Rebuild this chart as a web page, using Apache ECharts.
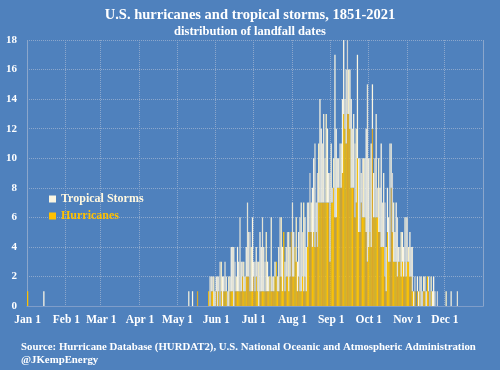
<!DOCTYPE html>
<html>
<head>
<meta charset="utf-8">
<script src="https://cdn.jsdelivr.net/npm/echarts@6/dist/echarts.min.js"></script>
<style>
html,body{margin:0;padding:0;background:#4f81bd;}
#chart{width:500px;height:370px;}
</style>
</head>
<body>
<div id="chart"></div>
<script>
const monthNames = ['Jan','Feb','Mar','Apr','May','Jun','Jul','Aug','Sep','Oct','Nov','Dec'];
const monthLengths = [31,28,31,30,31,30,31,31,30,31,30,31];
const tickLabels = ['Jan 1','Feb 1','Mar 1','Apr 1','May 1','Jun 1','Jul 1','Aug 1','Sep 1','Oct 1','Nov 1','Dec 1'];
const yTicks = [0,2,4,6,8,10,12,14,16,18];

// landfall counts per calendar day (Jan 1 .. Dec 31)
const hurricanes = [
 // Jan
 1,0,0,0,0,0,0,0,0,0, 0,0,0,0,0,0,0,0,0,0, 0,0,0,0,0,0,0,0,0,0, 0,
 // Feb
 0,0,0,0,0,0,0,0,0,0, 0,0,0,0,0,0,0,0,0,0, 0,0,0,0,0,0,0,0,
 // Mar
 0,0,0,0,0,0,0,0,0,0, 0,0,0,0,0,0,0,0,0,0, 0,0,0,0,0,0,0,0,0,0, 0,
 // Apr
 0,0,0,0,0,0,0,0,0,0, 0,0,0,0,0,0,0,0,0,0, 0,0,0,0,0,0,0,0,0,0,
 // May
 0,0,0,0,0,0,0,0,0,0, 0,0,0,0,0,0,1,0,0,0, 0,0,0,0,0,1,0,1,1,0, 0,
 // Jun
 1,0,1,0,1,0,1,1,1,0, 0,1,1,1,0,1,1,1,1,1, 1,2,1,1,2,2,2,1,1,1,
 // Jul
 2,1,2,1,0,1,1,1,1,1, 1,1,1,2,1,1,1,2,3,1, 1,2,2,1,5,1,2,2,1,2, 5,
 // Aug
 2,2,4,3,1,2,1,1,2,1, 2,1,4,5,5,5,4,5,4,5, 4,7,7,7,7,7,7,7,7,7, 3,
 // Sep
 7,7,8,6,6,8,8,8,8,9, 13,12,11,13,13,12,8,8,8,6, 7,10,5,5,7,6,6,6,5,3,
 // Oct
 4,5,4,12,6,6,6,6,5,5, 4,4,4,2,1,5,3,3,8,5, 3,3,3,2,3,3,2,3,2,3, 2,
 // Nov
 3,3,2,2,1,0,1,0,1,0, 1,0,0,1,1,0,2,1,0,1, 0,0,0,0,0,0,0,0,0,0,
 // Dec
 0,0,0,0,0,0,0,0,0,0, 0,0,0,0,0,0,0,0,0,0, 0,0,0,0,0,0,0,0,0,0, 0
];

const tropicalStorms = [
 // Jan
 0,0,0,0,0,0,0,0,0,0, 0,0,0,1,0,0,0,0,0,0, 0,0,0,0,0,0,0,0,0,0, 0,
 // Feb
 0,0,0,0,0,0,0,0,0,0, 0,0,0,0,0,0,0,0,0,0, 0,0,0,0,0,0,0,0,
 // Mar
 0,0,0,0,0,0,0,0,0,0, 0,0,0,0,0,0,0,0,0,0, 0,0,0,0,0,0,0,0,0,0, 0,
 // Apr
 0,0,0,0,0,0,0,0,0,0, 0,0,0,0,0,0,0,0,0,0, 0,0,0,0,0,0,0,0,0,0,
 // May
 0,0,0,0,0,0,0,0,0,1, 0,0,1,0,0,0,0,0,0,0, 0,0,0,0,0,0,2,1,1,2, 1,
 // Jun
 1,2,1,3,2,2,1,2,1,1, 2,1,3,3,4,2,1,3,2,5, 2,1,2,1,2,5,3,4,3,5,
 // Jul
 1,2,2,2,3,4,3,5,3,2, 4,2,1,0,5,1,1,1,0,1, 3,4,4,3,0,2,2,3,4,2, 0,
 // Aug
 5,3,0,3,2,3,5,6,3,6, 4,3,3,2,4,2,4,5,7,2, 5,4,7,5,4,6,3,6,5,2, 6,
 // Sep
 4,1,2,11,6,2,2,3,3,5, 5,2,5,5,3,4,6,4,5,5, 5,7,5,5,2,4,4,4,7,12,
 // Oct
 6,5,7,3,3,4,7,2,5,3, 7,3,5,5,3,3,3,8,3,4, 4,2,4,4,1,1,3,2,2,3, 4,
 // Nov
 3,1,3,2,3,1,1,0,1,1, 1,2,1,1,1,1,0,1,1,1, 1,2,1,0,1,0,0,0,0,0,
 // Dec
 0,1,0,0,0,1,0,0,0,0, 1,0,0,0,0,0,0,0,0,0, 0,0,0,0,0,0,0,0,0,0, 0
];

const categories = [];
monthNames.forEach((m, i) => {
  for (let d = 1; d <= monthLengths[i]; d++) categories.push(m + ' ' + d);
});

const goldShades = ['#ffc000', '#e3b023', '#f7c20c', '#d8a72a', '#fbbf00'];
const paleShades = ['#fbf6e2', '#fff3c4', '#cfd2d2', '#f6f1dc', '#e2e2d6', '#fff8e6'];
const serif = '"Liberation Serif", "DejaVu Serif", serif';
const gridColor = '#8ca7cc';
const isTick = (i, v) => tickLabels.indexOf(v) >= 0;

const chart = echarts.init(document.getElementById('chart'), null, {renderer: 'canvas'});
chart.setOption({
  animation: false,
  backgroundColor: '#4f81bd',
  title: [
    {text: 'U.S. hurricanes and tropical storms, 1851-2021', left: 'center', top: 3,
     textStyle: {color: '#ffffff', fontFamily: serif, fontWeight: 'bold', fontSize: 14.5}},
    {text: 'distribution of landfall dates', left: 'center', top: 20,
     textStyle: {color: '#ffffff', fontFamily: serif, fontWeight: 'bold', fontSize: 12.5}}
  ],
  legend: {
    orient: 'vertical', left: 44, top: 188, itemGap: 5,
    itemWidth: 7, itemHeight: 7, icon: 'rect',
    textStyle: {fontFamily: serif, fontWeight: 'bold', fontSize: 12},
    data: [
      {name: 'Tropical Storms', itemStyle: {color: '#fbf6e2'}, textStyle: {color: '#fff8e0'}},
      {name: 'Hurricanes', itemStyle: {color: '#ffc000'}, textStyle: {color: '#ffc000'}}
    ]
  },
  grid: {left: 27, right: 17, top: 40, bottom: 64},
  xAxis: {
    type: 'category', data: categories, boundaryGap: true,
    axisLine: {show: true, lineStyle: {color: '#7f9dc9', width: 1}},
    axisTick: {show: false},
    axisLabel: {interval: isTick, color: '#ffffff', fontFamily: serif, fontWeight: 'bold', fontSize: 11.5, margin: 8},
    splitLine: {show: true, interval: isTick, lineStyle: {color: gridColor, type: 'dotted', width: 1}}
  },
  yAxis: [
    {type: 'value', min: yTicks[0], max: yTicks[yTicks.length - 1], interval: 2,
     axisLine: {show: true, lineStyle: {color: gridColor, type: 'dotted'}},
     axisTick: {show: false},
     axisLabel: {color: '#ffffff', fontFamily: serif, fontWeight: 'bold', fontSize: 11, margin: 10},
     splitLine: {lineStyle: {color: gridColor, type: 'dotted', width: 1}}},
    {type: 'value', min: 0, max: 18, interval: 2, position: 'right',
     axisLine: {show: true, lineStyle: {color: gridColor, type: 'dotted'}},
     axisTick: {show: false}, axisLabel: {show: false}, splitLine: {show: false}}
  ],
  series: [
    {name: 'Hurricanes', type: 'bar', stack: 'all', data: hurricanes,
     barCategoryGap: '0%', barWidth: '100%',
     itemStyle: {color: p => goldShades[(p.dataIndex * 3) % goldShades.length]}},
    {name: 'Tropical Storms', type: 'bar', stack: 'all', data: tropicalStorms,
     barCategoryGap: '0%', barWidth: '100%',
     itemStyle: {color: p => paleShades[(p.dataIndex * 5) % paleShades.length]}}
  ],
  graphic: [
    {type: 'text', left: 21, top: 342, style: {text: 'Source: Hurricane Database (HURDAT2), U.S. National Oceanic and Atmospheric Administration',
      fill: '#ffffff', font: 'bold 10.8px ' + serif}},
    {type: 'text', left: 21, top: 355, style: {text: '@JKempEnergy', fill: '#ffffff', font: 'bold 10.8px ' + serif}}
  ]
});
</script>
</body>
</html>
